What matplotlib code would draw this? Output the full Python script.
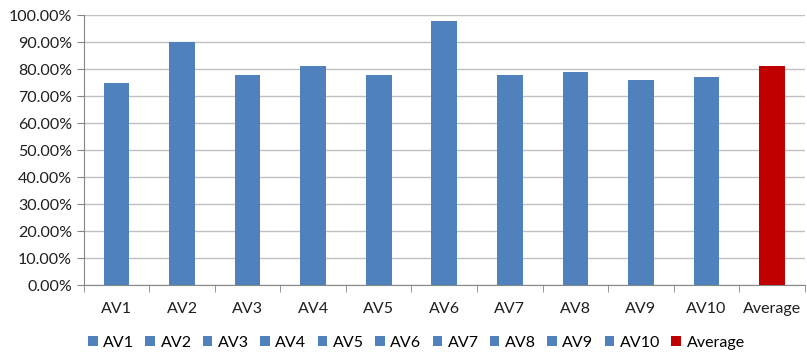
import matplotlib.pyplot as plt
from matplotlib.ticker import FuncFormatter, FixedLocator

plt.rcParams['font.family'] = ['Lato', 'DejaVu Sans']

names = ['AV1', 'AV2', 'AV3', 'AV4', 'AV5', 'AV6', 'AV7', 'AV8', 'AV9', 'AV10', 'Average']
values = [75, 90, 78, 81, 78, 98, 78, 79, 76, 77, 81]
colors = ['#4f81bd'] * 10 + ['#c00000']

fig = plt.figure(figsize=(8.07, 3.52), dpi=100)
ax = fig.add_axes([0.104, 0.19, 0.893, 0.767])

for i, (n, v, c) in enumerate(zip(names, values, colors)):
    ax.bar(i, v, width=0.39, color=c, label=n, zorder=3)

ax.set_xlim(-0.5, len(names) - 0.5)
ax.set_ylim(0, 100)
ax.set_yticks(range(0, 101, 10))
ax.yaxis.set_major_formatter(FuncFormatter(lambda y, p: f'{y:.2f}%'))
ax.set_xticks(range(len(names)))
ax.set_xticklabels(names)
ax.xaxis.set_minor_locator(FixedLocator([i - 0.5 for i in range(len(names) + 1)]))
ax.tick_params(axis='x', which='major', length=0, pad=12, labelsize=11.5, labelcolor='#1f1f1f')
ax.tick_params(axis='x', which='minor', length=5, color='#868686')
ax.tick_params(axis='y', length=5, color='#868686', labelsize=11.5, labelcolor='#1f1f1f')
ax.grid(axis='y', color='#c0c0c0', linewidth=1, zorder=0)

for s in ['top', 'right']:
    ax.spines[s].set_visible(False)
ax.spines['left'].set_color('#868686')
ax.spines['bottom'].set_color('#868686')

fig.legend(loc='lower center', bbox_to_anchor=(0.516, -0.035), ncol=11, frameon=False,
           handlelength=0.6, handleheight=0.6, handletextpad=0.35, columnspacing=0.7,
           fontsize=11.5)

fig.savefig('out.png', dpi=100)
